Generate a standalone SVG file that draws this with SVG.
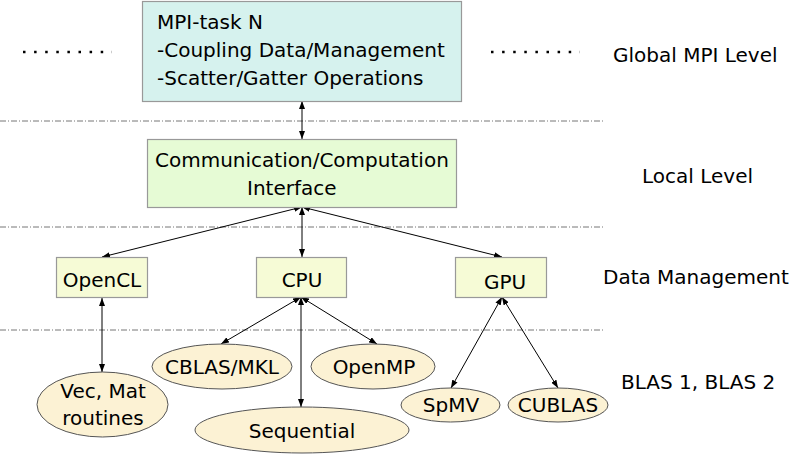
<svg xmlns="http://www.w3.org/2000/svg" width="793" height="454" viewBox="0 0 793 454">
<defs>
<marker id="ah" markerWidth="8" markerHeight="6" refX="8" refY="3" orient="auto-start-reverse" markerUnits="userSpaceOnUse"><path d="M0,0 L8,3 L0,6 Z" fill="#000"/></marker>
<style>
text{font-family:"DejaVu Sans","Liberation Sans",sans-serif;font-size:20px;fill:#000}
.sep{stroke:#777;stroke-width:1;stroke-dasharray:6,2,1,2;fill:none}
.dots{stroke:#000;stroke-width:2.5;stroke-dasharray:2.5,8.6;fill:none}
.box{stroke:#999;stroke-width:1.2}
.ell{fill:#fcf2d4;stroke:#555;stroke-width:1}
.con line{stroke:#000;stroke-width:1;marker-start:url(#ah);marker-end:url(#ah)}
</style>
</defs>
<rect width="793" height="454" fill="#fff"/>
<g id="separators">
<line class="sep" x1="0" y1="121" x2="603" y2="121"/>
<line class="sep" x1="0" y1="227" x2="603" y2="227"/>
<line class="sep" x1="0" y1="330" x2="603" y2="330"/>
<line class="dots" x1="23" y1="52" x2="112" y2="52"/>
<line class="dots" x1="491" y1="52" x2="580" y2="52"/>
</g>
<g id="levels">
<text x="613" y="62">Global MPI Level</text>
<text x="642" y="183">Local Level</text>
<text x="603" y="284">Data Management</text>
<text x="621" y="389">BLAS 1, BLAS 2</text>
</g>
<g class="con" id="connectors">
<line x1="302" y1="101" x2="302" y2="139"/>
<line x1="302" y1="207" x2="102" y2="257"/>
<line x1="302" y1="207" x2="302" y2="257"/>
<line x1="302" y1="207" x2="502" y2="257"/>
<line x1="102" y1="298" x2="102" y2="372"/>
<line x1="301" y1="297" x2="221" y2="344"/>
<line x1="301" y1="297" x2="301" y2="407"/>
<line x1="301" y1="297" x2="377" y2="344"/>
<line x1="502" y1="297" x2="451" y2="388"/>
<line x1="502" y1="297" x2="558" y2="388"/>
</g>
<g id="mpi">
<rect class="box" x="142.5" y="1.5" width="319" height="100" fill="#d6f2ee"/>
<text x="157" y="29">MPI-task N</text>
<text x="157" y="57">-Coupling Data/Management</text>
<text x="157" y="85">-Scatter/Gatter Operations</text>
</g>
<g id="comm">
<rect class="box" x="147.5" y="139.5" width="309" height="68" fill="#e6fbd5"/>
<text x="155" y="167">Communication/Computation</text>
<text x="247" y="195">Interface</text>
</g>
<g id="opencl">
<rect class="box" x="56.5" y="257.5" width="91" height="40" fill="#f6fbd6"/>
<text x="102" y="287" text-anchor="middle">OpenCL</text>
</g>
<g id="cpu">
<rect class="box" x="256.5" y="257.5" width="90" height="40" fill="#f6fbd6"/>
<text x="302" y="287" text-anchor="middle">CPU</text>
</g>
<g id="gpu">
<rect class="box" x="455.5" y="257.5" width="91" height="40" fill="#f6fbd6"/>
<text x="505" y="289" text-anchor="middle">GPU</text>
</g>
<g id="vecmat">
<ellipse class="ell" cx="102.5" cy="404.5" rx="65.5" ry="32.5"/>
<text x="103" y="398" text-anchor="middle">Vec, Mat</text>
<text x="103" y="425" text-anchor="middle">routines</text>
</g>
<g id="cblas">
<ellipse class="ell" cx="222" cy="366.5" rx="70" ry="22.5"/>
<text x="222" y="374" text-anchor="middle">CBLAS/MKL</text>
</g>
<g id="openmp">
<ellipse class="ell" cx="373" cy="366.5" rx="62" ry="22.5"/>
<text x="374" y="374" text-anchor="middle">OpenMP</text>
</g>
<g id="sequential">
<ellipse class="ell" cx="302" cy="430" rx="107" ry="23"/>
<text x="302" y="438" text-anchor="middle">Sequential</text>
</g>
<g id="spmv">
<ellipse class="ell" cx="450.5" cy="405" rx="49.5" ry="17"/>
<text x="451" y="412" text-anchor="middle">SpMV</text>
</g>
<g id="cublas">
<ellipse class="ell" cx="558" cy="405" rx="50" ry="17"/>
<text x="558" y="412" text-anchor="middle">CUBLAS</text>
</g>
</svg>
